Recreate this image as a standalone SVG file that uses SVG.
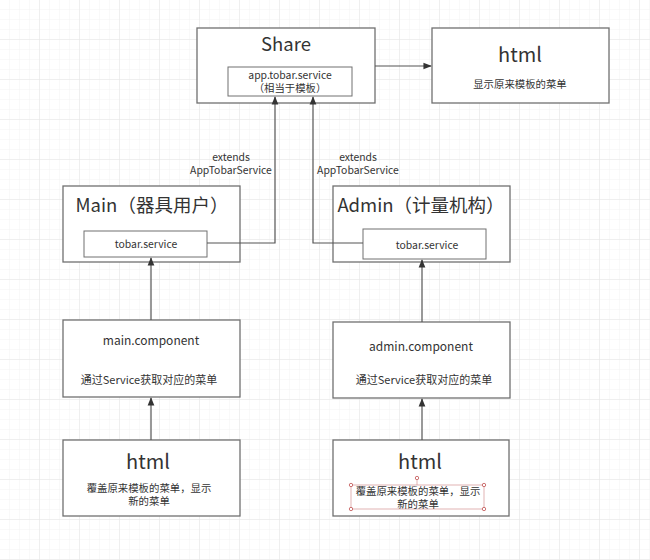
<svg xmlns="http://www.w3.org/2000/svg" width="650" height="560" viewBox="0 0 650 560">
<defs>
<pattern id="minor" width="10" height="10" patternUnits="userSpaceOnUse"><path d="M10 0V10H0" fill="none" stroke="#f3f3f3" stroke-width="1"/></pattern>
<pattern id="major" width="40" height="40" patternUnits="userSpaceOnUse"><rect width="40" height="40" fill="url(#minor)"/><path d="M40 0V40H0" fill="none" stroke="#e6e6e6" stroke-width="1"/></pattern>
<marker id="arr" viewBox="0 0 10 10" refX="9" refY="5" markerWidth="7" markerHeight="7" orient="auto-start-reverse"><path d="M0 1L10 5L0 9Z" fill="#333"/></marker>
<style>
.box{fill:#fff;stroke:#707070;stroke-width:1.3}
.inner{fill:#fff;stroke:#707070;stroke-width:1}
.t{font-family:"Noto Sans CJK SC","Noto Sans",sans-serif;fill:#333;text-anchor:middle}
.big{font-size:18.5px}
.med{font-size:12px}
.sm{font-size:10.4px}
.desc{font-size:11px}
.ln{fill:none;stroke:#555;stroke-width:1.2;marker-end:url(#arr)}
</style>
</defs>
<rect width="650" height="560" fill="#fff"/>
<rect width="650" height="560" fill="url(#major)"/>
<g id="share">
<rect class="box" x="197" y="28" width="178" height="75"/>
<text class="t big" x="286" y="51">Share</text>
<rect class="inner" x="228" y="67" width="124" height="29"/>
<text class="t sm" x="290" y="78.5">app.tobar.service</text>
<text class="t sm" x="290" y="92">（相当于模板）</text>
</g>
<g id="html-top">
<rect class="box" x="432" y="28" width="177" height="75"/>
<text class="t" x="520" y="62" font-size="20">html</text>
<text class="t sm" x="520" y="88">显示原来模板的菜单</text>
</g>
<g id="main">
<rect class="box" x="63" y="186" width="177" height="76"/>
<text class="t big" x="152" y="212">Main（器具用户）</text>
<rect class="inner" x="84" y="231" width="123" height="26"/>
<text class="t sm" x="146" y="248">tobar.service</text>
</g>
<g id="admin">
<rect class="box" x="333" y="186" width="177" height="76"/>
<text class="t big" x="421" y="212">Admin（计量机构）</text>
<rect class="inner" x="363" y="229" width="123" height="30"/>
<text class="t sm" x="427" y="249">tobar.service</text>
</g>
<g id="main-component">
<rect class="box" x="63" y="320" width="177" height="77"/>
<text class="t med" x="151" y="345">main.component</text>
<text class="t desc" x="149" y="384">通过Service获取对应的菜单</text>
</g>
<g id="admin-component">
<rect class="box" x="333" y="322" width="177" height="76"/>
<text class="t med" x="421" y="351">admin.component</text>
<text class="t desc" x="424" y="384">通过Service获取对应的菜单</text>
</g>
<g id="html-main">
<rect class="box" x="63" y="440" width="177" height="76"/>
<text class="t" x="148" y="469" font-size="20">html</text>
<text class="t sm" x="149" y="491.5">覆盖原来模板的菜单，显示</text>
<text class="t sm" x="149" y="505">新的菜单</text>
</g>
<g id="html-admin">
<rect class="box" x="333" y="440" width="176" height="76"/>
<text class="t" x="420" y="469" font-size="20">html</text>
<g fill="none" stroke="#d9a0a0" stroke-width="0.8">
<rect x="351" y="485" width="133" height="24"/>
<line x1="417" y1="480" x2="417" y2="485"/>
</g>
<g fill="#fff" stroke="#c05050" stroke-width="0.8">
<circle cx="351" cy="485" r="1.7"/><circle cx="484" cy="485" r="1.7"/>
<circle cx="351" cy="509" r="1.7"/><circle cx="484" cy="509" r="1.7"/>
<circle cx="417" cy="478" r="1.7"/>
</g>
<text class="t sm" x="418" y="494.5">覆盖原来模板的菜单，显示</text>
<text class="t sm" x="418" y="508">新的菜单</text>
</g>
<g id="connectors">
<line class="ln" x1="375" y1="66" x2="431" y2="66"/>
<polyline class="ln" points="207,243 275,243 275,97"/>
<polyline class="ln" points="363,243 313,243 313,97"/>
<line class="ln" x1="151" y1="320" x2="151" y2="258"/>
<line class="ln" x1="422" y1="322" x2="422" y2="260"/>
<line class="ln" x1="151" y1="440" x2="151" y2="398"/>
<line class="ln" x1="422" y1="440" x2="422" y2="399"/>
<text class="t sm" x="231" y="160.5">extends</text>
<text class="t sm" x="231" y="174">AppTobarService</text>
<text class="t sm" x="358" y="160.5">extends</text>
<text class="t sm" x="358" y="174">AppTobarService</text>
</g>
</svg>
